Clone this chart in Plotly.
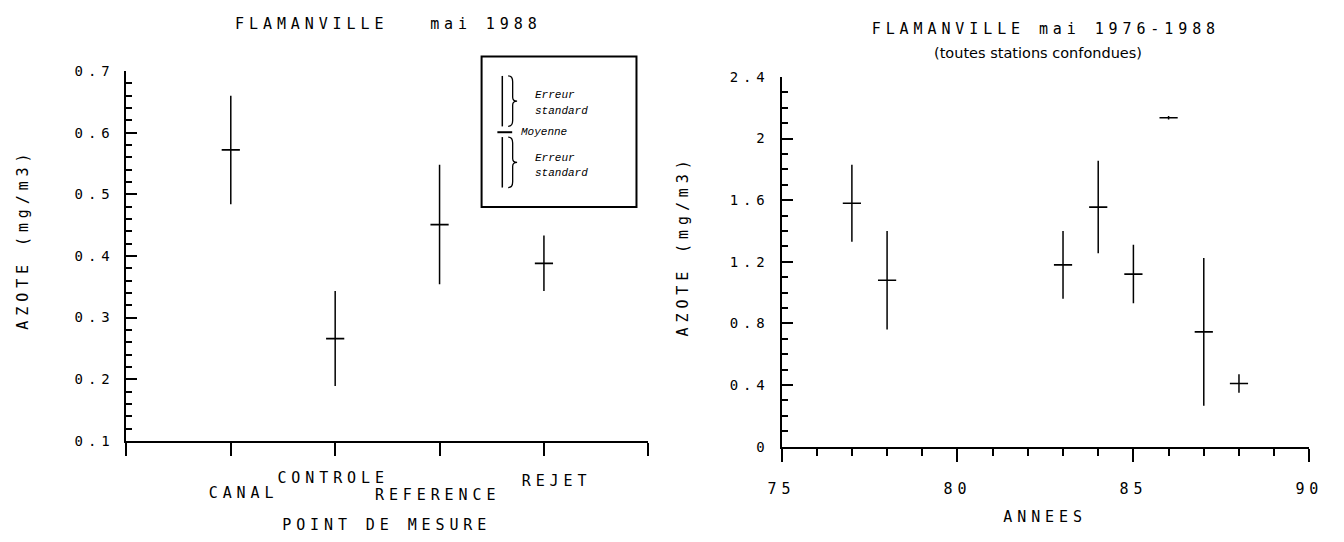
import plotly.graph_objects as go

W, H = 1344, 542

# Flamanville, mai 1988: nitrogen by sampling point (mean and standard error)
points = ["CANAL", "CONTROLE", "REFERENCE", "REJET"]
azote_1988 = [0.572, 0.266, 0.451, 0.388]
se_1988 = [0.088, 0.077, 0.097, 0.045]

# Flamanville, mai 1976-1988: all stations pooled, by year
years = [77, 78, 83, 84, 85, 86, 87, 88]
azote_years = [1.58, 1.08, 1.18, 1.555, 1.12, 2.135, 0.745, 0.41]
se_years = [0.25, 0.32, 0.22, 0.30, 0.19, 0.012, 0.48, 0.06]

FONT = "DejaVu Sans Mono"      # plotter lettering (spread out below)
KEY_FONT = "Liberation Mono"   # small lettering inside the key box
INK = "black"
SPREAD = 4.9                   # extra letter spacing of the plotter lettering, px


def px(x):
    return x / W


def py(y):
    return 1 - y / H


def pen(size):
    return dict(family=FONT, size=size, color=INK)


point_pos = [i + 1 for i in range(len(points))]

fig = go.Figure()

mark = dict(symbol="line-ew", size=13, color=INK, line=dict(color=INK, width=1.7))

fig.add_trace(go.Scatter(
    x=point_pos, y=azote_1988, mode="markers", marker=mark,
    error_y=dict(type="data", array=se_1988, visible=True, thickness=1.5, width=0, color=INK),
    xaxis="x", yaxis="y", showlegend=False, hoverinfo="skip",
))
fig.add_trace(go.Scatter(
    x=years, y=azote_years, mode="markers", marker=mark,
    error_y=dict(type="data", array=se_years, visible=True, thickness=1.5, width=0, color=INK),
    xaxis="x2", yaxis="y2", showlegend=False, hoverinfo="skip",
))

axis_common = dict(showline=True, linecolor=INK, linewidth=2, showgrid=False, zeroline=False,
                   tickcolor=INK, tickwidth=2, tickfont=pen(15))

fig.update_layout(
    width=W, height=H, margin=dict(l=0, r=0, t=0, b=0),
    paper_bgcolor="white", plot_bgcolor="white",
    xaxis=dict(axis_common, domain=[px(119), px(648)], range=[0, 5], anchor="y",
               tickmode="array", tickvals=[0, 1, 2, 3, 4, 5], ticks="outside", ticklen=13,
               showticklabels=False),
    yaxis=dict(axis_common, domain=[py(446), py(65)], range=[0.1, 0.7], anchor="x",
               tick0=0.1, dtick=0.1, tickformat=".1f", ticks="inside", ticklen=11,
               ticklabelstandoff=7, tickfont=pen(14),
               minor=dict(dtick=0.02, ticks="inside", ticklen=6, tickwidth=2, tickcolor=INK)),
    xaxis2=dict(axis_common, domain=[px(783), px(1318)], range=[75, 90], anchor="y2",
                tickmode="array", tickvals=[75, 80, 85, 90], ticks="outside", ticklen=13,
                ticklabelstandoff=14,
                minor=dict(dtick=1, tick0=75, ticks="outside", ticklen=7, tickwidth=2, tickcolor=INK)),
    yaxis2=dict(axis_common, domain=[py(452), py(71)], range=[0, 2.4], anchor="x2",
                tick0=0, dtick=0.4, ticks="inside", ticklen=11, ticklabelstandoff=7,
                tickfont=pen(14),
                minor=dict(dtick=0.1, ticks="inside", ticklen=6, tickwidth=2, tickcolor=INK)),
)

annotations = []


def text(s, x, y, font=None, xanchor="center", angle=0):
    annotations.append(dict(
        text=s, x=px(x), y=py(y), xref="paper", yref="paper",
        xanchor=xanchor, yanchor="middle", showarrow=False, textangle=angle,
        font=font or pen(15),
    ))


NB = "\u00a0"
key_font = dict(family=KEY_FONT, size=11, color=INK, style="italic")

# Titles
text("FLAMANVILLE" + NB * 3 + "mai" + NB + "1988", 385, 17)
text("FLAMANVILLE mai 1976-1988", 1051, 22)
text("(toutes stations confondues)", 1043, 46,
     font=dict(family="DejaVu Sans", size=14.5, color=INK))

# Sampling point names, staggered under their ticks
label_rows = {"CANAL": 500, "CONTROLE": 484, "REFERENCE": 502, "REJET": 487}
label_shift = {"CANAL": 13, "CONTROLE": -2, "REFERENCE": -2, "REJET": 13}
for name, pos in zip(points, point_pos):
    annotations.append(dict(
        text=name, x=pos, y=py(label_rows[name]), xref="x", yref="paper",
        xanchor="center", yanchor="middle", showarrow=False, xshift=label_shift[name],
        font=pen(15),
    ))

# Axis titles
text("POINT" + NB + "DE" + NB + "MESURE", 383, 533)
text("ANNEES", 1050, 524)
text("AZOTE" + NB + "(mg/m3)", 14, 238, angle=-90)
text("AZOTE" + NB + "(mg/m3)", 683, 245, angle=-90)

# Key box: standard error above and below the mean
text("Erreur", 531, 90, font=key_font, xanchor="left")
text("standard", 531, 106, font=key_font, xanchor="left")
text("Moyenne", 517, 128, font=key_font, xanchor="left")
text("Erreur", 531, 155, font=key_font, xanchor="left")
text("standard", 531, 170, font=key_font, xanchor="left")

fig.update_layout(annotations=annotations)

line_style = dict(color=INK, width=2)
shapes = [
    dict(type="rect", xref="paper", yref="paper", x0=px(479), x1=px(636), y0=py(205), y1=py(50),
         line=line_style),
    dict(type="line", xref="paper", yref="paper", x0=px(500), x1=px(500), y0=py(70), y1=py(122),
         line=dict(color=INK, width=1.5)),
    dict(type="line", xref="paper", yref="paper", x0=px(500), x1=px(500), y0=py(133), y1=py(185),
         line=dict(color=INK, width=1.5)),
    dict(type="line", xref="paper", yref="paper", x0=px(495), x1=px(510), y0=py(128), y1=py(128),
         line=line_style),
]


def brace(x0, ya, yb, w=9):
    """Right-facing curly brace from ya to yb (pixels), as a paper-coordinate path."""
    ym = (ya + yb) / 2
    xm = x0 + w / 2
    pts = [
        ("M", [(x0, ya)]),
        ("Q", [(xm, ya), (xm, ya + 6)]),
        ("L", [(xm, ym - 4)]),
        ("Q", [(xm, ym), (x0 + w, ym)]),
        ("Q", [(xm, ym), (xm, ym + 4)]),
        ("L", [(xm, yb - 6)]),
        ("Q", [(xm, yb), (x0, yb)]),
    ]
    out = []
    for cmd, coords in pts:
        out.append(cmd + " " + " ".join(f"{px(a):.5f},{py(b):.5f}" for a, b in coords))
    return " ".join(out)


for ya, yb in [(70, 122), (133, 185)]:
    shapes.append(dict(type="path", xref="paper", yref="paper", path=brace(506, ya, yb),
                       line=dict(color=INK, width=1.3)))

fig.update_layout(shapes=shapes)

# Widely spaced plotter lettering for the main labels
spread_css = (
    "var s=document.createElement('style');"
    "s.textContent='.main-svg text[style*=\"DejaVu Sans Mono\"]{letter-spacing:%.1fpx;}';"
    "document.head.appendChild(s);" % SPREAD
)

fig.write_html("out.html", post_script=spread_css)
